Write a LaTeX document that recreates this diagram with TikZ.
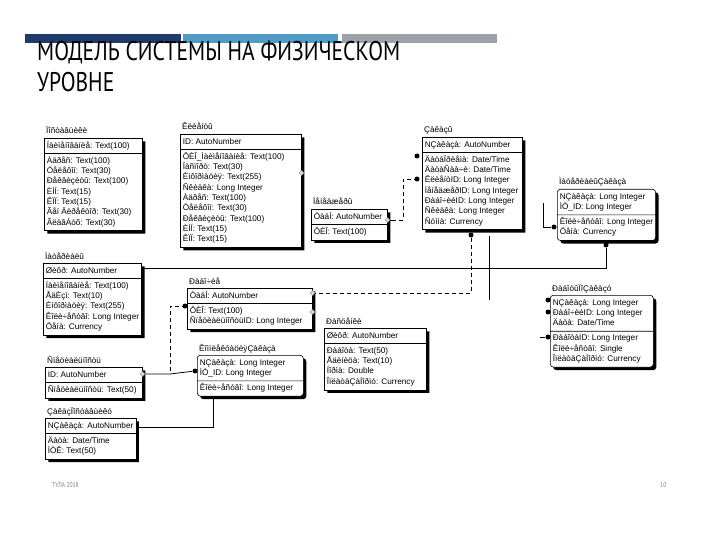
\documentclass[tikz,border=0pt]{standalone}
\usepackage{fontspec}
\setmainfont{Liberation Sans}
\newfontfamily\titlefont[FakeStretch=0.8]{PT Sans}
\usetikzlibrary{shapes.multipart,shapes.geometric,shadows}
\newcommand\tabfont{\fontsize{8.2}{10.3}\selectfont}
\definecolor{barA}{HTML}{1F3A6B}
\definecolor{barB}{HTML}{4E9BC8}
\definecolor{barC}{HTML}{9CA2A9}
\definecolor{foot}{HTML}{7F7F7F}
\tikzset{
  ent/.style={rectangle split, rectangle split parts=2, rectangle split part align={left},
    draw=black, line width=0.6pt, fill=white, font=\tabfont, align=left,
    minimum width=#1, inner xsep=2.5pt, inner ysep=2.2pt,
    general shadow={fill=black, shadow xshift=3pt, shadow yshift=-3pt}, anchor=north west},
  dep/.style={rounded corners=3pt},
  ttl/.style={font=\tabfont, anchor=base west, inner sep=0pt},
  rel/.style={draw=black, line width=0.8pt},
  reld/.style={rel, dash pattern=on 4pt off 3pt},
  dot/.style={circle, fill=black, inner sep=0pt, minimum size=5pt},
  dia/.style={diamond, draw=gray, fill=gray!25, inner sep=0pt, minimum size=5pt},
  bar/.style={inner sep=0pt, minimum height=9pt, anchor=north west}
}
\begin{document}
\begin{tikzpicture}[x=1pt,y=-1pt]
\useasboundingbox (0,0) rectangle (720,540);
% header bars
\node[bar, fill=barA, minimum width=156pt] (barA) at (25,34) {};
\node[bar, fill=barB, minimum width=155pt] (barB) at (183,34) {};
\node[bar, fill=barC, minimum width=155pt] (barC) at (342,34) {};
% title
\node[anchor=base west, inner sep=0pt, font=\titlefont\fontsize{27}{32}\selectfont] (title1) at (37,61) {МОДЕЛЬ СИСТЕМЫ НА ФИЗИЧЕСКОМ};
\node[anchor=base west, inner sep=0pt, font=\titlefont\fontsize{27}{32}\selectfont] (title2) at (37,92) {УРОВНЕ};
% footer
\node[anchor=base west, inner sep=0pt, font=\titlefont\fontsize{7}{8}\selectfont, text=foot] (foot1) at (52,487) {ТУЛА 2018};
\node[anchor=base west, inner sep=0pt, font=\titlefont\fontsize{7}{8}\selectfont, text=foot] (foot2) at (660,487) {10};

% T1
\node[ent=98pt] (t1) at (44,138) {\strut Íàèìåíîâàíèå: Text(100)\nodepart{two}\strut Àäðåñ: Text(100)\\\strut Òåëåôîí: Text(30)\\\strut Ðåêâèçèòû: Text(100)\\\strut ÈÍÍ: Text(15)\\\strut ÊÏÏ: Text(15)\\\strut Ãåí Äèðåêòîð: Text(30)\\\strut ÃëàâÁóõ: Text(30)};
\node[ttl] (t1t) at (46,134) {Ïîñòàâùèêè};
% T2
\node[ent=121pt] (t2) at (180,134) {\strut ID: AutoNumber\nodepart{two}\strut ÔÈÎ\_Íàèìåíîâàíèå: Text(100)\\\strut Ïàñïîðò: Text(30)\\\strut Èíôîðìàöèÿ: Text(255)\\\strut Ñêèäêà: Long Integer\\\strut Àäðåñ: Text(100)\\\strut Òåëåôîí: Text(30)\\\strut Ðåêâèçèòû: Text(100)\\\strut ÈÍÍ: Text(15)\\\strut ÊÏÏ: Text(15)};
\node[ttl] (t2t) at (182,130) {Êëèåíòû};
% T3
\node[ent=76pt] (t3) at (311,209) {\strut ÒàáÍ: AutoNumber\nodepart{two}\strut ÔÈÎ: Text(100)};
\node[ttl] (t3t) at (313,205) {Ìåíåäæåðû};
% T4
\node[ent=100pt] (t4) at (422,137) {\strut NÇàêàçà: AutoNumber\nodepart{two}\strut ÄàòàÏðèåìà: Date/Time\\\strut ÄàòàÑäà÷è: Date/Time\\\strut ÊëèåíòID: Long Integer\\\strut ÌåíåäæåðID: Long Integer\\\strut Ðàáî÷èéID: Long Integer\\\strut Ñêèäêà: Long Integer\\\strut Ñóììà: Currency};
\node[ttl] (t4t) at (424,133) {Çàêàçû};
% T5
\node[ent=96pt, dep] (t5) at (557,189) {\strut NÇàêàçà: Long Integer\\\strut ÌÒ\_ID: Long Integer\nodepart{two}\strut Êîëè÷åñòâî: Long Integer\\\strut Öåíà: Currency};
\node[ttl] (t5t) at (559,185) {ÌàòåðèàëûÇàêàçà};
% T6
\node[ent=97pt] (t6) at (43,263) {\strut Øèôð: AutoNumber\nodepart{two}\strut Íàèìåíîâàíèå: Text(100)\\\strut ÅäÈçì: Text(10)\\\strut Èíôîðìàöèÿ: Text(255)\\\strut Êîëè÷åñòâî: Long Integer\\\strut Öåíà: Currency};
\node[ttl] (t6t) at (45,259) {Ìàòåðèàëû};
% T7
\node[ent=125pt] (t7) at (187,288) {\strut ÒàáÍ: AutoNumber\nodepart{two}\strut ÔÈÎ: Text(100)\\\strut ÑïåöèàëüíîñòüID: Long Integer};
\node[ttl] (t7t) at (189,284) {Ðàáî÷èå};
% T8
\node[ent=102pt] (t8) at (324,328) {\strut Øèôð: AutoNumber\nodepart{two}\strut Ðàáîòà: Text(50)\\\strut Åäèíèöà: Text(10)\\\strut Íîðìà: Double\\\strut ÎïëàòàÇàÍîðìó: Currency};
\node[ttl] (t8t) at (326,324) {Ðàñöåíêè};
% T9
\node[ent=103pt, dep] (t9) at (550,295) {\strut NÇàêàçà: Long Integer\\\strut Ðàáî÷èéID: Long Integer\\\strut Äàòà: Date/Time\nodepart{two}\strut ÐàáîòàID: Long Integer\\\strut Êîëè÷åñòâî: Single\\\strut ÎïëàòàÇàÍîðìó: Currency};
\node[ttl] (t9t) at (552,291) {ÐàáîòûÏîÇàêàçó};
% T10
\node[ent=97pt] (t10) at (45,367) {\strut ID: AutoNumber\nodepart{two}\strut Ñïåöèàëüíîñòü: Text(50)};
\node[ttl] (t10t) at (47,363) {Ñïåöèàëüíîñòü};
% T11
\node[ent=106pt, dep] (t11) at (197,355) {\strut NÇàêàçà: Long Integer\\\strut ÌÒ\_ID: Long Integer\nodepart{two}\strut Êîëè÷åñòâî: Long Integer};
\node[ttl] (t11t) at (199,351) {ÊîìïëåêòàöèÿÇàêàçà};
% T12
\node[ent=85pt] (t12) at (45,418) {\strut NÇàêàçà: AutoNumber\nodepart{two}\strut Äàòà: Date/Time\\\strut ÌÒÊ: Text(50)};
\node[ttl] (t12t) at (47,414) {ÇàêàçÏîñòàâùèêó};

% relationship end markers
\node[dia] (d2) at (t2.east |- 0,173) {};
\node[dia] (d3) at (t3.east |- 0,220) {};
\node[dia] (d7a) at (t7.east |- 0,293) {};
\node[dia] (d7b) at (t7.east |- 0,312) {};
\node[dia] (d10) at (t10.east |- 0,374) {};
\node[dot] (b4a) at ([xshift=-5pt]t4.west |- 0,156) {};
\node[dot] (b4b) at ([xshift=-5pt]t4.west |- 0,179) {};
\node[dot] (b4c) at (471,235) {};
\node[dot] (b5a) at ([xshift=-3pt]t5.west |- 0,227) {};
\node[dot] (b5b) at (606,245) {};
\node[dot] (b7) at ([xshift=-2pt]t7.west |- 0,306) {};
\node[dot] (b9a) at ([xshift=-2pt]t9.west |- 0,300) {};
\node[dot] (b9b) at ([xshift=-2pt]t9.west |- 0,312) {};
\node[dot] (b9c) at ([xshift=-2pt]t9.west |- 0,337) {};
\node[dot] (b11) at ([xshift=-2pt]t11.west |- 0,371) {};

% junction coordinates
\coordinate (m6) at (t6.east |- 0,268);
\coordinate (jR) at (606,268);
\coordinate (v489a) at (489,236);
\coordinate (v489b) at (489,300);
\coordinate (k392) at (392,220);
\coordinate (k403) at (403,220);
\coordinate (k403b) at (403,179);
\coordinate (r471) at (471,293);
\coordinate (q543) at (543,203);
\coordinate (q543b) at (543,227);
\coordinate (s540) at (540,337);
\coordinate (v170) at (170,371);
\coordinate (v170b) at (170,306);
\coordinate (w12) at (t12.east |- 0,427);
\coordinate (w213) at (213,427);

% connectors
\draw[rel] (m6) -- (jR) -- (b5b);
\draw[rel] (v489a) -- (v489b);
\draw[reld] (b4c) -- (r471) -- (d7a);
\draw[rel] (d3) -- (k392);
\draw[reld] (k392) -- (k403) -- (k403b) -- (b4b);
\draw[rel] (q543) -- (q543b) -- (b5a);
\draw[rel] (s540) -- (b9c);
\draw[rel] (d10) -- (d10 -| v170) -- (b11);
\draw[reld] (v170) -- (v170b) -- (b7);
\draw[rel] (w12) -- (w213) -- (t11.south -| w213);
\end{tikzpicture}
\end{document}
